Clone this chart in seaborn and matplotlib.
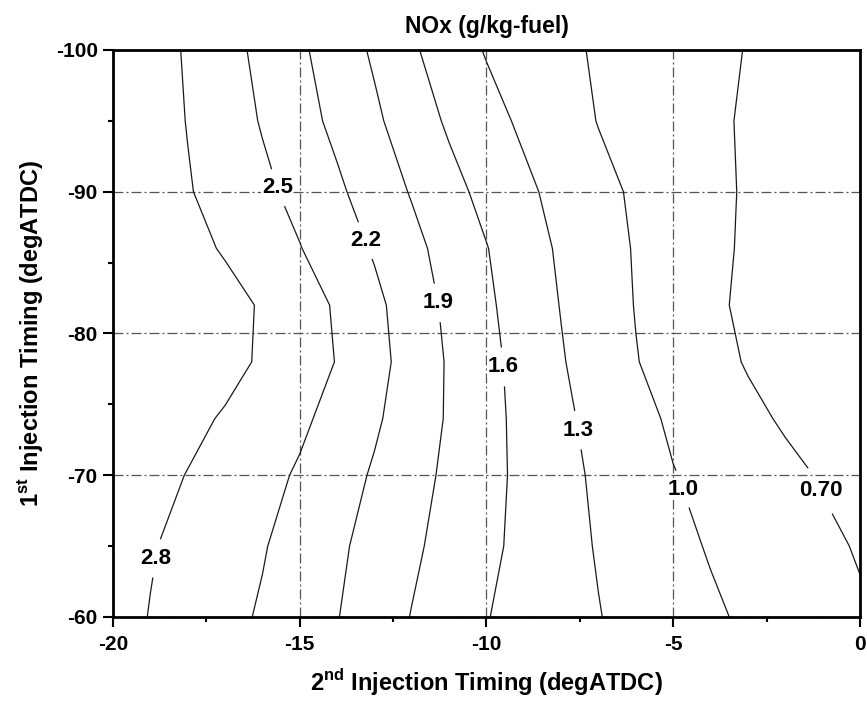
import numpy as np
import matplotlib
matplotlib.use("Agg")
import matplotlib.pyplot as plt
import seaborn as sns

# 2nd injection timing (degATDC) -- grid columns
second_injection = [-20, -19, -18, -17, -16, -15, -14, -13, -12, -11, -10,
                    -9, -8, -7, -6, -5, -4, -3, -2, -1, 0]
# 1st injection timing (degATDC) -- grid rows
first_injection = [-100, -95, -90, -86, -82, -78, -74, -70, -65, -60]

# NOx emission (g/kg-fuel), one row per 1st injection timing
nox = [
    [3.09, 2.93, 2.77, 2.60, 2.43, 2.25, 2.05, 1.86, 1.64, 1.45, 1.28, 1.17, 1.06, 0.97, 0.90, 0.83, 0.76, 0.69, 0.62, 0.55, 0.48],
    [3.09, 2.94, 2.79, 2.64, 2.48, 2.31, 2.13, 1.95, 1.75, 1.56, 1.40, 1.25, 1.13, 0.99, 0.92, 0.83, 0.75, 0.67, 0.59, 0.50, 0.42],
    [3.08, 2.95, 2.82, 2.69, 2.56, 2.42, 2.25, 2.06, 1.88, 1.69, 1.52, 1.36, 1.21, 1.08, 0.96, 0.86, 0.77, 0.67, 0.57, 0.48, 0.38],
    [3.17, 3.03, 2.90, 2.77, 2.64, 2.51, 2.35, 2.17, 1.98, 1.79, 1.61, 1.43, 1.26, 1.12, 0.98, 0.87, 0.77, 0.66, 0.56, 0.45, 0.34],
    [3.34, 3.20, 3.06, 2.91, 2.77, 2.62, 2.47, 2.27, 2.05, 1.84, 1.65, 1.46, 1.29, 1.14, 0.99, 0.88, 0.76, 0.64, 0.53, 0.41, 0.29],
    [3.31, 3.17, 3.04, 2.90, 2.76, 2.63, 2.49, 2.29, 2.09, 1.87, 1.68, 1.50, 1.32, 1.16, 1.01, 0.90, 0.79, 0.68, 0.58, 0.47, 0.36],
    [3.10, 2.99, 2.88, 2.77, 2.66, 2.55, 2.41, 2.24, 2.06, 1.87, 1.69, 1.52, 1.36, 1.21, 1.08, 0.96, 0.86, 0.76, 0.67, 0.57, 0.47],
    [3.01, 2.90, 2.79, 2.69, 2.58, 2.47, 2.32, 2.17, 2.01, 1.84, 1.69, 1.53, 1.39, 1.25, 1.13, 1.01, 0.93, 0.84, 0.76, 0.68, 0.60],
    [2.93, 2.82, 2.72, 2.62, 2.52, 2.38, 2.25, 2.10, 1.95, 1.80, 1.66, 1.53, 1.40, 1.28, 1.17, 1.07, 0.98, 0.90, 0.83, 0.75, 0.68],
    [2.91, 2.79, 2.69, 2.58, 2.47, 2.33, 2.21, 2.05, 1.89, 1.75, 1.61, 1.51, 1.40, 1.31, 1.21, 1.13, 1.04, 0.96, 0.88, 0.81, 0.73],
]

# contour levels and their printed labels
levels = [0.70, 1.0, 1.3, 1.6, 1.9, 2.2, 2.5, 2.8]
level_text = ["0.70", "1.0", "1.3", "1.6", "1.9", "2.2", "2.5", "2.8"]

# where each level label sits on its line
label_x = [-1.02, -4.82, -7.50, -9.56, -11.33, -13.20, -15.61, -18.88]
label_y = [-68.96, -68.96, -73.2, -77.64, -82.15, -86.6, -90.26, -64.16]

x_major = [-20, -15, -10, -5, 0]
x_minor = [-17.5, -12.5, -7.5, -2.5]
y_major = [-100, -90, -80, -70, -60]
y_minor = [-95, -85, -75, -65]

sns.set_theme(style="white")
plt.rcParams.update({
    "font.family": ["Liberation Sans", "DejaVu Sans"],
    "font.weight": "bold",
    "axes.labelweight": "bold",
    "axes.titleweight": "bold",
    "axes.unicode_minus": False,
    "mathtext.fontset": "custom",
    "mathtext.rm": "Liberation Sans:bold",
    "mathtext.bf": "Liberation Sans:bold",
    "text.color": "black",
    "axes.labelcolor": "black",
    "xtick.color": "black",
    "ytick.color": "black",
})

fig = plt.figure(figsize=(8.67, 7.07), dpi=100)
ax = fig.add_axes([0.13033, 0.1273, 0.86159, 0.80198])

X, Y = np.meshgrid(second_injection, first_injection)
cs = ax.contour(X, Y, np.array(nox), levels=levels, colors="#1a1a1a",
                linewidths=0.9)

ax.set_xlim(-20, 0)
ax.set_ylim(-60, -100)

texts = ax.clabel(cs, levels, inline=True, inline_spacing=4,
                  fmt=dict(zip(levels, level_text)), fontsize=16,
                  manual=list(zip(label_x, label_y)))
for t in texts:
    t.set_rotation(0)
    t.set_fontweight("bold")
    t.set_color("black")
    t.set_bbox(dict(facecolor="white", edgecolor="none", pad=0.3))

ax.set_xticks(x_major)
ax.set_xticks(x_minor, minor=True)
ax.set_yticks(y_major)
ax.set_yticks(y_minor, minor=True)
ax.set_xticklabels([str(v) for v in x_major])
ax.set_yticklabels([str(v) for v in y_major])

ax.tick_params(which="both", direction="out", bottom=True, left=True,
               top=False, right=False, width=1.5, colors="black")
ax.tick_params(which="major", length=7, labelsize=15)
ax.tick_params(axis="x", which="major", pad=6)
ax.tick_params(axis="y", which="major", pad=4)
ax.tick_params(which="minor", length=3.5)

ax.set_axisbelow(True)
ax.grid(True, which="major", color="#555555", linewidth=0.9,
        linestyle=(0, (8, 2.4, 1.6, 2.4)))

for sp in ax.spines.values():
    sp.set_color("black")
    sp.set_linewidth(2.0)

ax.set_title("NOx (g/kg-fuel)", fontsize=16.5, pad=12)
ax.set_xlabel(r"2$^{\mathbf{nd}}$ Injection Timing (degATDC)", fontsize=17,
              labelpad=9)
ax.set_ylabel(r"1$^{\mathbf{st}}$ Injection Timing (degATDC)", fontsize=17,
              labelpad=8)

fig.savefig("out.png", dpi=100)
